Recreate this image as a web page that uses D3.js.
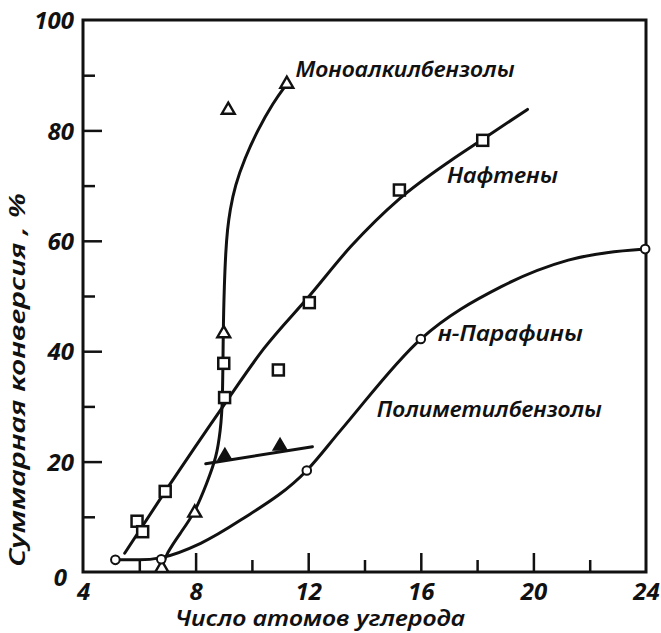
<!DOCTYPE html>
<html>
<head>
<meta charset="utf-8">
<script src="https://cdn.jsdelivr.net/npm/d3@7"></script>
<style>
  html, body { margin: 0; padding: 0; background: #fff; }
  svg text { font-family: "Noto Sans", "DejaVu Sans", sans-serif; font-style: italic; font-weight: 600; fill: #111; }
</style>
</head>
<body>
<svg id="chart" width="661" height="633"></svg>
<script>
// ---- data ----
const xTickValues = [4, 8, 12, 16, 20, 24];
const xMinorTicks = [6, 10, 14, 18, 22];
const yTickValues = [0, 20, 40, 60, 80, 100];
const yMinorTicks = [10, 30, 50, 70, 90];

// Моноалкилбензолы (open triangles)
const monoPoints = [[6.8, 0.7], [7.97, 10.7], [9.0, 43.2], [9.16, 83.7], [11.24, 88.4]];
const monoCurve = [[6.8, 0.8], [6.97, 3.4], [7.45, 7.0], [7.97, 10.7], [8.4, 16.1], [8.75, 20.9], [8.88, 25.7], [8.96, 30.0], [8.98, 44.0], [9.02, 52.0], [9.07, 58.0], [9.13, 62.0], [9.22, 65.5], [9.4, 70.0], [9.75, 75.0], [10.2, 80.0], [10.75, 85.0], [11.24, 88.4]];

// Нафтены (open squares)
const naphthPoints = [[5.92, 9.2], [6.12, 7.3], [6.92, 14.6], [9.0, 37.8], [9.03, 31.6], [10.94, 36.6], [12.04, 48.8], [15.24, 69.2], [18.2, 78.2]];
const naphthCurve = [[5.48, 3.4], [6.92, 14.6], [9.0, 30.2], [10.43, 40.5], [12.04, 50.0], [13.52, 59.0], [15.24, 67.6], [17.08, 74.6], [18.2, 78.4], [19.79, 83.8]];

// н-Парафины (open circles)
const paraffPoints = [[5.15, 2.2], [6.78, 2.3], [11.95, 18.4], [16.0, 42.2], [23.97, 58.5]];
const paraffCurve = [[5.15, 2.2], [6.0, 2.2], [6.78, 2.6], [8.18, 5.2], [9.6, 9.4], [11.95, 18.4], [13.16, 25.7], [16.0, 42.2], [18.86, 51.7], [21.24, 56.5], [23.97, 58.5]];

// Полиметилбензолы (filled triangles)
const polyPoints = [[9.04, 21.0], [11.0, 22.8]];
const polyLine = [[8.36, 19.6], [12.15, 22.7]];

const seriesLabels = [
  { text: "Моноалкилбензолы", x: 11.55, y: 89.6, len: 219 },
  { text: "Нафтены", x: 16.93, y: 70.4, len: 111 },
  { text: "н-Парафины", x: 16.6, y: 41.8, len: 145 },
  { text: "Полиметилбензолы", x: 14.44, y: 28.0, len: 225 }
];
const xTitle = "Число атомов углерода";
const yTitle = "Суммарная конверсия , %";

// ---- drawing ----
const svg = d3.select("#chart");
const x = d3.scaleLinear().domain([4, 24]).range([83, 646]);
const y = d3.scaleLinear().domain([0, 100]).range([572, 20]);
const ink = "#111";
const fontStack = '"Noto Sans", "DejaVu Sans", sans-serif';

// frame
svg.append("rect")
  .attr("x", x(4)).attr("y", y(100))
  .attr("width", x(24) - x(4)).attr("height", y(0) - y(100))
  .attr("fill", "none").attr("stroke", ink).attr("stroke-width", 3);

// x axis ticks (inward)
const gx = svg.append("g").attr("transform", `translate(0,${y(0)})`)
  .call(d3.axisBottom(x).tickValues(xTickValues).tickSize(-19).tickPadding(0).tickFormat(d3.format("d")));
gx.select(".domain").remove();
gx.selectAll(".tick line").attr("stroke", ink).attr("stroke-width", 2.5)
  .filter(d => d === 4 || d === 24).remove();
gx.selectAll(".tick text").attr("font-size", 24).attr("dy", "0").attr("y", 28).attr("fill", ink)
  .style("font-family", fontStack).style("font-style", "italic").style("font-weight", 700);
svg.append("g").attr("transform", `translate(0,${y(0)})`)
  .call(d3.axisBottom(x).tickValues(xMinorTicks).tickSize(-12).tickFormat(""))
  .call(g => g.select(".domain").remove())
  .selectAll(".tick line").attr("stroke", ink).attr("stroke-width", 2.5);

// y axis ticks (inward)
const gy = svg.append("g").attr("transform", `translate(${x(4)},0)`)
  .call(d3.axisLeft(y).tickValues(yTickValues).tickSize(-19).tickPadding(0).tickFormat(d3.format("d")));
gy.select(".domain").remove();
gy.selectAll(".tick line").attr("stroke", ink).attr("stroke-width", 2.5)
  .filter(d => d === 0 || d === 100).remove();
gy.selectAll(".tick text").attr("font-size", 24).attr("x", -9).attr("dy", "0.36em").attr("fill", ink)
  .style("font-family", fontStack).style("font-style", "italic").style("font-weight", 700);
gy.selectAll(".tick text").filter(d => d === 0).attr("x", -16).attr("dy", "0.55em");
svg.append("g").attr("transform", `translate(${x(4)},0)`)
  .call(d3.axisLeft(y).tickValues(yMinorTicks).tickSize(-12).tickFormat(""))
  .call(g => g.select(".domain").remove())
  .selectAll(".tick line").attr("stroke", ink).attr("stroke-width", 2.5);

// curves
const lineX = d3.line().x(d => x(d[0])).y(d => y(d[1])).curve(d3.curveMonotoneX);
const lineB = d3.line().x(d => x(d[0])).y(d => y(d[1])).curve(d3.curveBasis);
const straight = d3.line().x(d => x(d[0])).y(d => y(d[1]));
const curveStyle = p => p.attr("fill", "none").attr("stroke", ink).attr("stroke-width", 3).attr("stroke-linecap", "round");
svg.append("path").attr("d", lineB(monoCurve)).call(curveStyle);
svg.append("path").attr("d", lineX(naphthCurve)).call(curveStyle);
svg.append("path").attr("d", lineX(paraffCurve)).call(curveStyle);
svg.append("path").attr("d", straight(polyLine)).call(curveStyle);

// markers
const triPath = d3.symbol().type(d3.symbolTriangle).size(72);
svg.append("g").selectAll("path").data(monoPoints).join("path")
  .attr("d", triPath).attr("transform", d => `translate(${x(d[0])},${y(d[1])})`)
  .attr("fill", "#fff").attr("stroke", ink).attr("stroke-width", 2.4);
svg.append("g").selectAll("path").data(polyPoints).join("path")
  .attr("d", triPath).attr("transform", d => `translate(${x(d[0])},${y(d[1])})`)
  .attr("fill", ink).attr("stroke", ink).attr("stroke-width", 2);
svg.append("g").selectAll("rect").data(naphthPoints).join("rect")
  .attr("x", d => x(d[0]) - 5.5).attr("y", d => y(d[1]) - 5.5)
  .attr("width", 11).attr("height", 11)
  .attr("fill", "#fff").attr("stroke", ink).attr("stroke-width", 2.5);
svg.append("g").selectAll("circle").data(paraffPoints).join("circle")
  .attr("cx", d => x(d[0])).attr("cy", d => y(d[1])).attr("r", 4.3)
  .attr("fill", "#fff").attr("stroke", ink).attr("stroke-width", 2);

// series labels
svg.append("g").selectAll("text").data(seriesLabels).join("text")
  .attr("x", d => x(d.x)).attr("y", d => y(d.y))
  .attr("font-size", 21)
  .attr("textLength", d => d.len).attr("lengthAdjust", "spacingAndGlyphs")
  .text(d => d.text);

// axis titles
svg.append("text").attr("x", 175).attr("y", 626).attr("font-size", 21)
  .attr("textLength", 290).attr("lengthAdjust", "spacingAndGlyphs").text(xTitle);
svg.append("text").attr("transform", "translate(25,567) rotate(-90)").attr("font-size", 21)
  .attr("textLength", 374).attr("lengthAdjust", "spacingAndGlyphs").text(yTitle);
</script>
</body>
</html>
